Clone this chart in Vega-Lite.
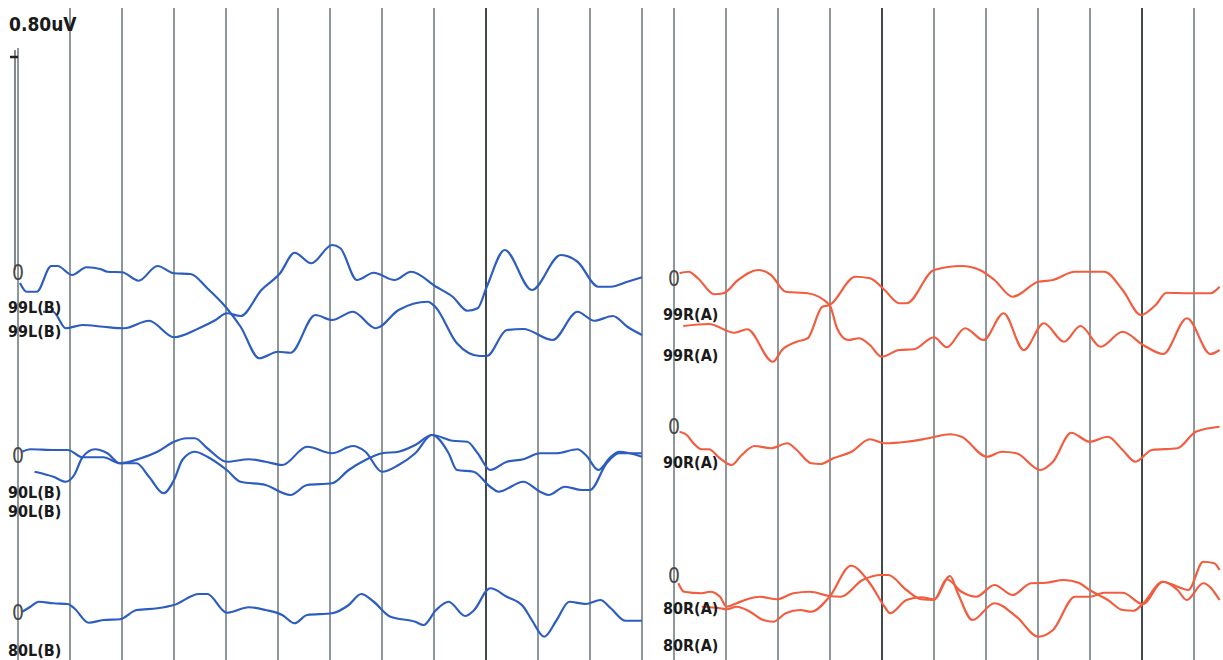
{
  "$schema": "https://vega.github.io/schema/vega-lite/v6.json",
  "padding": 0,
  "spacing": 0,
  "background": "white",
  "config": {"view": {"stroke": null}},
  "resolve": {"scale": {"x": "independent", "y": "independent"}},
  "datasets": {
    "gridL": [
      {"t": 1, "dark": "n"}, {"t": 2, "dark": "n"}, {"t": 3, "dark": "n"}, {"t": 4, "dark": "n"},
      {"t": 5, "dark": "n"}, {"t": 6, "dark": "n"}, {"t": 7, "dark": "n"}, {"t": 8, "dark": "n"},
      {"t": 9, "dark": "y"}, {"t": 10, "dark": "n"}, {"t": 11, "dark": "n"}, {"t": 12, "dark": "n"}
    ],
    "gridR": [
      {"t": 0, "dark": "n"}, {"t": 1, "dark": "n"}, {"t": 2, "dark": "n"}, {"t": 3, "dark": "n"},
      {"t": 4, "dark": "y"}, {"t": 5, "dark": "n"}, {"t": 6, "dark": "n"}, {"t": 7, "dark": "n"},
      {"t": 8, "dark": "n"}, {"t": 9, "dark": "y"}, {"t": 10, "dark": "n"}
    ],
    "left": [
      {"s": "L99a", "t": 0.038, "v": 1.508}, {"s": "L99a", "t": 0.167, "v": 1.473}, {"s": "L99a", "t": 0.36, "v": 1.473},
      {"s": "L99a", "t": 0.64, "v": 1.576}, {"s": "L99a", "t": 0.76, "v": 1.576}, {"s": "L99a", "t": 1.04, "v": 1.54},
      {"s": "L99a", "t": 1.319, "v": 1.571}, {"s": "L99a", "t": 1.6, "v": 1.563}, {"s": "L99a", "t": 1.719, "v": 1.553},
      {"s": "L99a", "t": 2.0, "v": 1.551}, {"s": "L99a", "t": 2.319, "v": 1.517}, {"s": "L99a", "t": 2.681, "v": 1.576},
      {"s": "L99a", "t": 3.0, "v": 1.547}, {"s": "L99a", "t": 3.319, "v": 1.544}, {"s": "L99a", "t": 3.64, "v": 1.487},
      {"s": "L99a", "t": 4.015, "v": 1.407}, {"s": "L99a", "t": 4.281, "v": 1.333}, {"s": "L99a", "t": 4.64, "v": 1.207},
      {"s": "L99a", "t": 5.0, "v": 1.233}, {"s": "L99a", "t": 5.24, "v": 1.229}, {"s": "L99a", "t": 5.719, "v": 1.38},
      {"s": "L99a", "t": 6.04, "v": 1.36}, {"s": "L99a", "t": 6.44, "v": 1.393}, {"s": "L99a", "t": 6.881, "v": 1.327},
      {"s": "L99a", "t": 7.319, "v": 1.4}, {"s": "L99a", "t": 7.881, "v": 1.433}, {"s": "L99a", "t": 8.023, "v": 1.413},
      {"s": "L99a", "t": 8.44, "v": 1.267}, {"s": "L99a", "t": 8.881, "v": 1.216}, {"s": "L99a", "t": 9.015, "v": 1.216},
      {"s": "L99a", "t": 9.4, "v": 1.32}, {"s": "L99a", "t": 9.719, "v": 1.324}, {"s": "L99a", "t": 10.281, "v": 1.28},
      {"s": "L99a", "t": 10.76, "v": 1.393}, {"s": "L99a", "t": 11.081, "v": 1.357}, {"s": "L99a", "t": 11.44, "v": 1.376},
      {"s": "L99a", "t": 11.719, "v": 1.333}, {"s": "L99a", "t": 12.0, "v": 1.3},

      {"s": "L99b", "t": 0.481, "v": 1.393}, {"s": "L99b", "t": 0.673, "v": 1.393}, {"s": "L99b", "t": 0.919, "v": 1.327},
      {"s": "L99b", "t": 1.24, "v": 1.34}, {"s": "L99b", "t": 1.64, "v": 1.333}, {"s": "L99b", "t": 2.04, "v": 1.327},
      {"s": "L99b", "t": 2.519, "v": 1.357}, {"s": "L99b", "t": 3.0, "v": 1.291}, {"s": "L99b", "t": 3.481, "v": 1.327},
      {"s": "L99b", "t": 3.8, "v": 1.36}, {"s": "L99b", "t": 4.015, "v": 1.387}, {"s": "L99b", "t": 4.281, "v": 1.376},
      {"s": "L99b", "t": 4.681, "v": 1.48}, {"s": "L99b", "t": 5.04, "v": 1.547}, {"s": "L99b", "t": 5.319, "v": 1.629},
      {"s": "L99b", "t": 5.64, "v": 1.587}, {"s": "L99b", "t": 6.04, "v": 1.66}, {"s": "L99b", "t": 6.2, "v": 1.647},
      {"s": "L99b", "t": 6.519, "v": 1.52}, {"s": "L99b", "t": 6.84, "v": 1.549}, {"s": "L99b", "t": 7.24, "v": 1.52},
      {"s": "L99b", "t": 7.56, "v": 1.553}, {"s": "L99b", "t": 8.04, "v": 1.493}, {"s": "L99b", "t": 8.36, "v": 1.453},
      {"s": "L99b", "t": 8.64, "v": 1.397}, {"s": "L99b", "t": 8.84, "v": 1.407}, {"s": "L99b", "t": 9.015, "v": 1.493},
      {"s": "L99b", "t": 9.36, "v": 1.64}, {"s": "L99b", "t": 9.881, "v": 1.48}, {"s": "L99b", "t": 10.44, "v": 1.62},
      {"s": "L99b", "t": 10.76, "v": 1.593}, {"s": "L99b", "t": 11.16, "v": 1.493}, {"s": "L99b", "t": 11.4, "v": 1.493},
      {"s": "L99b", "t": 11.719, "v": 1.513}, {"s": "L99b", "t": 12.0, "v": 1.531},

      {"s": "L90a", "t": 0.081, "v": 0.833}, {"s": "L90a", "t": 0.24, "v": 0.843}, {"s": "L90a", "t": 0.681, "v": 0.84},
      {"s": "L90a", "t": 0.96, "v": 0.84}, {"s": "L90a", "t": 1.24, "v": 0.811}, {"s": "L90a", "t": 1.64, "v": 0.811},
      {"s": "L90a", "t": 1.96, "v": 0.787}, {"s": "L90a", "t": 2.36, "v": 0.807}, {"s": "L90a", "t": 2.681, "v": 0.833},
      {"s": "L90a", "t": 3.0, "v": 0.873}, {"s": "L90a", "t": 3.24, "v": 0.887}, {"s": "L90a", "t": 3.4, "v": 0.887},
      {"s": "L90a", "t": 3.64, "v": 0.847}, {"s": "L90a", "t": 4.015, "v": 0.793}, {"s": "L90a", "t": 4.44, "v": 0.803},
      {"s": "L90a", "t": 4.76, "v": 0.793}, {"s": "L90a", "t": 5.081, "v": 0.78}, {"s": "L90a", "t": 5.56, "v": 0.853},
      {"s": "L90a", "t": 6.04, "v": 0.827}, {"s": "L90a", "t": 6.44, "v": 0.856}, {"s": "L90a", "t": 6.681, "v": 0.833},
      {"s": "L90a", "t": 7.0, "v": 0.753}, {"s": "L90a", "t": 7.319, "v": 0.78}, {"s": "L90a", "t": 7.64, "v": 0.827},
      {"s": "L90a", "t": 7.96, "v": 0.9}, {"s": "L90a", "t": 8.36, "v": 0.877}, {"s": "L90a", "t": 8.64, "v": 0.873},
      {"s": "L90a", "t": 8.84, "v": 0.827}, {"s": "L90a", "t": 9.081, "v": 0.76}, {"s": "L90a", "t": 9.4, "v": 0.793},
      {"s": "L90a", "t": 9.719, "v": 0.803}, {"s": "L90a", "t": 10.04, "v": 0.827}, {"s": "L90a", "t": 10.36, "v": 0.827},
      {"s": "L90a", "t": 10.76, "v": 0.843}, {"s": "L90a", "t": 10.919, "v": 0.82}, {"s": "L90a", "t": 11.16, "v": 0.76},
      {"s": "L90a", "t": 11.4, "v": 0.813}, {"s": "L90a", "t": 11.56, "v": 0.833}, {"s": "L90a", "t": 12.0, "v": 0.813},

      {"s": "L90b", "t": 0.319, "v": 0.753}, {"s": "L90b", "t": 0.681, "v": 0.733}, {"s": "L90b", "t": 0.919, "v": 0.713},
      {"s": "L90b", "t": 1.081, "v": 0.74}, {"s": "L90b", "t": 1.24, "v": 0.811}, {"s": "L90b", "t": 1.481, "v": 0.843},
      {"s": "L90b", "t": 1.719, "v": 0.827}, {"s": "L90b", "t": 1.96, "v": 0.787}, {"s": "L90b", "t": 2.281, "v": 0.787},
      {"s": "L90b", "t": 2.519, "v": 0.733}, {"s": "L90b", "t": 2.8, "v": 0.667}, {"s": "L90b", "t": 3.0, "v": 0.72},
      {"s": "L90b", "t": 3.16, "v": 0.8}, {"s": "L90b", "t": 3.4, "v": 0.833}, {"s": "L90b", "t": 3.64, "v": 0.813},
      {"s": "L90b", "t": 4.015, "v": 0.76}, {"s": "L90b", "t": 4.281, "v": 0.713}, {"s": "L90b", "t": 4.76, "v": 0.7},
      {"s": "L90b", "t": 5.24, "v": 0.66}, {"s": "L90b", "t": 5.56, "v": 0.7}, {"s": "L90b", "t": 6.04, "v": 0.707},
      {"s": "L90b", "t": 6.36, "v": 0.76}, {"s": "L90b", "t": 6.681, "v": 0.8}, {"s": "L90b", "t": 7.0, "v": 0.827},
      {"s": "L90b", "t": 7.319, "v": 0.833}, {"s": "L90b", "t": 7.64, "v": 0.86}, {"s": "L90b", "t": 7.96, "v": 0.9},
      {"s": "L90b", "t": 8.281, "v": 0.827}, {"s": "L90b", "t": 8.44, "v": 0.76}, {"s": "L90b", "t": 8.76, "v": 0.753},
      {"s": "L90b", "t": 9.081, "v": 0.693}, {"s": "L90b", "t": 9.24, "v": 0.673}, {"s": "L90b", "t": 9.719, "v": 0.713},
      {"s": "L90b", "t": 10.04, "v": 0.673}, {"s": "L90b", "t": 10.2, "v": 0.66}, {"s": "L90b", "t": 10.519, "v": 0.693},
      {"s": "L90b", "t": 10.84, "v": 0.68}, {"s": "L90b", "t": 11.0, "v": 0.68}, {"s": "L90b", "t": 11.319, "v": 0.787},
      {"s": "L90b", "t": 11.56, "v": 0.827}, {"s": "L90b", "t": 12.0, "v": 0.827},

      {"s": "L80", "t": 0.081, "v": 0.193}, {"s": "L80", "t": 0.24, "v": 0.213}, {"s": "L80", "t": 0.4, "v": 0.233},
      {"s": "L80", "t": 0.681, "v": 0.227}, {"s": "L80", "t": 0.96, "v": 0.224}, {"s": "L80", "t": 1.081, "v": 0.207},
      {"s": "L80", "t": 1.36, "v": 0.149}, {"s": "L80", "t": 1.64, "v": 0.16}, {"s": "L80", "t": 1.96, "v": 0.163},
      {"s": "L80", "t": 2.281, "v": 0.2}, {"s": "L80", "t": 2.681, "v": 0.207}, {"s": "L80", "t": 3.0, "v": 0.22},
      {"s": "L80", "t": 3.481, "v": 0.264}, {"s": "L80", "t": 3.64, "v": 0.264}, {"s": "L80", "t": 4.015, "v": 0.189},
      {"s": "L80", "t": 4.44, "v": 0.211}, {"s": "L80", "t": 4.76, "v": 0.2}, {"s": "L80", "t": 5.081, "v": 0.18},
      {"s": "L80", "t": 5.319, "v": 0.147}, {"s": "L80", "t": 5.56, "v": 0.18}, {"s": "L80", "t": 6.04, "v": 0.187},
      {"s": "L80", "t": 6.36, "v": 0.22}, {"s": "L80", "t": 6.6, "v": 0.264}, {"s": "L80", "t": 6.84, "v": 0.233},
      {"s": "L80", "t": 7.162, "v": 0.173}, {"s": "L80", "t": 7.64, "v": 0.153}, {"s": "L80", "t": 7.8, "v": 0.14},
      {"s": "L80", "t": 8.04, "v": 0.2}, {"s": "L80", "t": 8.281, "v": 0.233}, {"s": "L80", "t": 8.6, "v": 0.176},
      {"s": "L80", "t": 8.76, "v": 0.197}, {"s": "L80", "t": 9.081, "v": 0.287}, {"s": "L80", "t": 9.4, "v": 0.253},
      {"s": "L80", "t": 9.719, "v": 0.213}, {"s": "L80", "t": 9.881, "v": 0.16}, {"s": "L80", "t": 10.119, "v": 0.093},
      {"s": "L80", "t": 10.36, "v": 0.16}, {"s": "L80", "t": 10.6, "v": 0.233}, {"s": "L80", "t": 10.919, "v": 0.224},
      {"s": "L80", "t": 11.2, "v": 0.24}, {"s": "L80", "t": 11.4, "v": 0.207}, {"s": "L80", "t": 11.681, "v": 0.157},
      {"s": "L80", "t": 12.0, "v": 0.157}
    ],
    "right": [
      {"s": "R99a", "t": 0.106, "v": 1.547}, {"s": "R99a", "t": 0.281, "v": 1.553}, {"s": "R99a", "t": 0.458, "v": 1.527},
      {"s": "R99a", "t": 0.775, "v": 1.463}, {"s": "R99a", "t": 0.95, "v": 1.467}, {"s": "R99a", "t": 1.233, "v": 1.52},
      {"s": "R99a", "t": 1.619, "v": 1.56}, {"s": "R99a", "t": 1.865, "v": 1.54}, {"s": "R99a", "t": 2.148, "v": 1.473},
      {"s": "R99a", "t": 2.571, "v": 1.467}, {"s": "R99a", "t": 2.992, "v": 1.42}, {"s": "R99a", "t": 3.135, "v": 1.327},
      {"s": "R99a", "t": 3.346, "v": 1.28}, {"s": "R99a", "t": 3.558, "v": 1.287}, {"s": "R99a", "t": 3.767, "v": 1.26},
      {"s": "R99a", "t": 3.992, "v": 1.213}, {"s": "R99a", "t": 4.331, "v": 1.24}, {"s": "R99a", "t": 4.613, "v": 1.243},
      {"s": "R99a", "t": 5.0, "v": 1.291}, {"s": "R99a", "t": 5.246, "v": 1.251}, {"s": "R99a", "t": 5.598, "v": 1.327},
      {"s": "R99a", "t": 5.952, "v": 1.28}, {"s": "R99a", "t": 6.338, "v": 1.387}, {"s": "R99a", "t": 6.725, "v": 1.24},
      {"s": "R99a", "t": 7.113, "v": 1.347}, {"s": "R99a", "t": 7.5, "v": 1.273}, {"s": "R99a", "t": 7.817, "v": 1.336},
      {"s": "R99a", "t": 8.204, "v": 1.253}, {"s": "R99a", "t": 8.627, "v": 1.313}, {"s": "R99a", "t": 9.021, "v": 1.26},
      {"s": "R99a", "t": 9.408, "v": 1.224}, {"s": "R99a", "t": 9.865, "v": 1.367}, {"s": "R99a", "t": 10.317, "v": 1.224},
      {"s": "R99a", "t": 10.492, "v": 1.24},

      {"s": "R99b", "t": 0.177, "v": 1.336}, {"s": "R99b", "t": 0.669, "v": 1.344}, {"s": "R99b", "t": 1.162, "v": 1.309},
      {"s": "R99b", "t": 1.408, "v": 1.323}, {"s": "R99b", "t": 1.902, "v": 1.193}, {"s": "R99b", "t": 2.077, "v": 1.24},
      {"s": "R99b", "t": 2.36, "v": 1.273}, {"s": "R99b", "t": 2.571, "v": 1.287}, {"s": "R99b", "t": 2.852, "v": 1.413},
      {"s": "R99b", "t": 2.992, "v": 1.42}, {"s": "R99b", "t": 3.487, "v": 1.533}, {"s": "R99b", "t": 3.767, "v": 1.527},
      {"s": "R99b", "t": 4.05, "v": 1.48}, {"s": "R99b", "t": 4.331, "v": 1.427}, {"s": "R99b", "t": 4.471, "v": 1.427},
      {"s": "R99b", "t": 5.0, "v": 1.56}, {"s": "R99b", "t": 5.529, "v": 1.576}, {"s": "R99b", "t": 5.881, "v": 1.56},
      {"s": "R99b", "t": 6.162, "v": 1.52}, {"s": "R99b", "t": 6.513, "v": 1.453}, {"s": "R99b", "t": 7.006, "v": 1.513},
      {"s": "R99b", "t": 7.288, "v": 1.52}, {"s": "R99b", "t": 7.712, "v": 1.553}, {"s": "R99b", "t": 8.275, "v": 1.553},
      {"s": "R99b", "t": 8.627, "v": 1.48}, {"s": "R99b", "t": 8.979, "v": 1.38}, {"s": "R99b", "t": 9.262, "v": 1.42},
      {"s": "R99b", "t": 9.471, "v": 1.469}, {"s": "R99b", "t": 9.894, "v": 1.467}, {"s": "R99b", "t": 10.317, "v": 1.467},
      {"s": "R99b", "t": 10.492, "v": 1.493},

      {"s": "R90", "t": 0.106, "v": 0.913}, {"s": "R90", "t": 0.246, "v": 0.9}, {"s": "R90", "t": 0.373, "v": 0.867},
      {"s": "R90", "t": 0.529, "v": 0.843}, {"s": "R90", "t": 0.669, "v": 0.843}, {"s": "R90", "t": 0.881, "v": 0.807},
      {"s": "R90", "t": 1.106, "v": 0.78}, {"s": "R90", "t": 1.302, "v": 0.82}, {"s": "R90", "t": 1.55, "v": 0.856},
      {"s": "R90", "t": 1.865, "v": 0.847}, {"s": "R90", "t": 2.183, "v": 0.867}, {"s": "R90", "t": 2.36, "v": 0.84},
      {"s": "R90", "t": 2.64, "v": 0.787}, {"s": "R90", "t": 2.817, "v": 0.784}, {"s": "R90", "t": 3.063, "v": 0.807},
      {"s": "R90", "t": 3.415, "v": 0.833}, {"s": "R90", "t": 3.767, "v": 0.883}, {"s": "R90", "t": 4.05, "v": 0.867},
      {"s": "R90", "t": 4.471, "v": 0.873}, {"s": "R90", "t": 4.894, "v": 0.887}, {"s": "R90", "t": 5.317, "v": 0.903},
      {"s": "R90", "t": 5.529, "v": 0.893}, {"s": "R90", "t": 6.021, "v": 0.813}, {"s": "R90", "t": 6.304, "v": 0.833},
      {"s": "R90", "t": 6.585, "v": 0.827}, {"s": "R90", "t": 7.042, "v": 0.76}, {"s": "R90", "t": 7.288, "v": 0.793},
      {"s": "R90", "t": 7.64, "v": 0.909}, {"s": "R90", "t": 7.992, "v": 0.873}, {"s": "R90", "t": 8.344, "v": 0.893},
      {"s": "R90", "t": 8.627, "v": 0.84}, {"s": "R90", "t": 8.873, "v": 0.793}, {"s": "R90", "t": 9.19, "v": 0.84},
      {"s": "R90", "t": 9.683, "v": 0.847}, {"s": "R90", "t": 10.035, "v": 0.913}, {"s": "R90", "t": 10.492, "v": 0.933},

      {"s": "R80a", "t": 0.083, "v": 0.307}, {"s": "R80a", "t": 0.192, "v": 0.273}, {"s": "R80a", "t": 0.533, "v": 0.267},
      {"s": "R80a", "t": 0.692, "v": 0.273}, {"s": "R80a", "t": 0.885, "v": 0.253}, {"s": "R80a", "t": 1.013, "v": 0.213},
      {"s": "R80a", "t": 1.206, "v": 0.227}, {"s": "R80a", "t": 1.365, "v": 0.24}, {"s": "R80a", "t": 1.654, "v": 0.253},
      {"s": "R80a", "t": 1.975, "v": 0.243}, {"s": "R80a", "t": 2.294, "v": 0.267}, {"s": "R80a", "t": 2.615, "v": 0.273},
      {"s": "R80a", "t": 2.992, "v": 0.256}, {"s": "R80a", "t": 3.204, "v": 0.253}, {"s": "R80a", "t": 3.627, "v": 0.32},
      {"s": "R80a", "t": 3.992, "v": 0.34}, {"s": "R80a", "t": 4.119, "v": 0.34}, {"s": "R80a", "t": 4.471, "v": 0.28},
      {"s": "R80a", "t": 4.754, "v": 0.243}, {"s": "R80a", "t": 5.0, "v": 0.24}, {"s": "R80a", "t": 5.246, "v": 0.323},
      {"s": "R80a", "t": 5.529, "v": 0.273}, {"s": "R80a", "t": 5.81, "v": 0.253}, {"s": "R80a", "t": 6.162, "v": 0.3},
      {"s": "R80a", "t": 6.513, "v": 0.26}, {"s": "R80a", "t": 6.865, "v": 0.307}, {"s": "R80a", "t": 7.148, "v": 0.309},
      {"s": "R80a", "t": 7.5, "v": 0.32}, {"s": "R80a", "t": 7.781, "v": 0.309}, {"s": "R80a", "t": 7.992, "v": 0.28},
      {"s": "R80a", "t": 8.344, "v": 0.24}, {"s": "R80a", "t": 8.627, "v": 0.2}, {"s": "R80a", "t": 8.838, "v": 0.197},
      {"s": "R80a", "t": 9.013, "v": 0.224}, {"s": "R80a", "t": 9.402, "v": 0.313}, {"s": "R80a", "t": 9.683, "v": 0.293},
      {"s": "R80a", "t": 9.89, "v": 0.28}, {"s": "R80a", "t": 10.177, "v": 0.393}, {"s": "R80a", "t": 10.388, "v": 0.387},
      {"s": "R80a", "t": 10.492, "v": 0.36},

      {"s": "R80b", "t": 0.533, "v": 0.213}, {"s": "R80b", "t": 0.885, "v": 0.207}, {"s": "R80b", "t": 1.013, "v": 0.203},
      {"s": "R80b", "t": 1.206, "v": 0.213}, {"s": "R80b", "t": 1.462, "v": 0.193}, {"s": "R80b", "t": 1.717, "v": 0.16},
      {"s": "R80b", "t": 1.91, "v": 0.153}, {"s": "R80b", "t": 2.148, "v": 0.187}, {"s": "R80b", "t": 2.429, "v": 0.2},
      {"s": "R80b", "t": 2.64, "v": 0.193}, {"s": "R80b", "t": 2.992, "v": 0.253}, {"s": "R80b", "t": 3.402, "v": 0.377},
      {"s": "R80b", "t": 3.767, "v": 0.307}, {"s": "R80b", "t": 4.05, "v": 0.213}, {"s": "R80b", "t": 4.154, "v": 0.187},
      {"s": "R80b", "t": 4.471, "v": 0.24}, {"s": "R80b", "t": 4.754, "v": 0.251}, {"s": "R80b", "t": 5.0, "v": 0.243},
      {"s": "R80b", "t": 5.308, "v": 0.336}, {"s": "R80b", "t": 5.458, "v": 0.267}, {"s": "R80b", "t": 5.74, "v": 0.16},
      {"s": "R80b", "t": 6.162, "v": 0.227}, {"s": "R80b", "t": 6.585, "v": 0.173}, {"s": "R80b", "t": 7.008, "v": 0.093},
      {"s": "R80b", "t": 7.288, "v": 0.12}, {"s": "R80b", "t": 7.712, "v": 0.253}, {"s": "R80b", "t": 7.992, "v": 0.253},
      {"s": "R80b", "t": 8.275, "v": 0.269}, {"s": "R80b", "t": 8.627, "v": 0.269}, {"s": "R80b", "t": 9.013, "v": 0.224},
      {"s": "R80b", "t": 9.402, "v": 0.313}, {"s": "R80b", "t": 9.683, "v": 0.28}, {"s": "R80b", "t": 9.86, "v": 0.24},
      {"s": "R80b", "t": 10.177, "v": 0.307}, {"s": "R80b", "t": 10.492, "v": 0.24}
    ],
    "titleL": [{"label": "0.80uV", "t": -0.173, "v": 2.54}],
    "labelsL": [
      {"label": "99L(B)", "t": -0.192, "v": 1.408},
      {"label": "99L(B)", "t": -0.192, "v": 1.312},
      {"label": "90L(B)", "t": -0.192, "v": 0.592},
      {"label": "90L(B)", "t": -0.192, "v": 0.668},
      {"label": "80L(B)", "t": -0.192, "v": 0.036}
    ],
    "labelsR": [
      {"label": "99R(A)", "t": -0.212, "v": 1.38},
      {"label": "99R(A)", "t": -0.212, "v": 1.216},
      {"label": "90R(A)", "t": -0.212, "v": 0.788},
      {"label": "80R(A)", "t": -0.212, "v": 0.204},
      {"label": "80R(A)", "t": -0.212, "v": 0.056}
    ],
    "zerosL": [{"t": 0, "v": 1.544}, {"t": 0, "v": 0.812}, {"t": 0, "v": 0.184}],
    "zerosR": [{"t": 0, "v": 1.52}, {"t": 0, "v": 0.928}, {"t": 0, "v": 0.332}]
  },
  "hconcat": [
    {
      "width": 656,
      "height": 660,
      "layer": [
        {
          "data": {"name": "gridL"},
          "mark": {"type": "rule", "strokeWidth": 1.7},
          "encoding": {
            "x": {"field": "t", "type": "quantitative", "scale": {"domain": [-0.346154, 12.269231]}, "axis": null},
            "y": {"datum": 2.608, "type": "quantitative", "scale": {"domain": [0, 2.64]}, "axis": null},
            "y2": {"datum": 0},
            "color": {"field": "dark", "type": "nominal", "scale": {"domain": ["n", "y"], "range": ["#7a858b", "#23282c"]}, "legend": null}
          }
        },
        {
          "data": {"values": [{"bar": 0.8}]},
          "mark": {"type": "rule", "strokeWidth": 1.7, "color": "#7a858b"},
          "encoding": {
            "x": {"datum": 0, "type": "quantitative", "scale": {"domain": [-0.346154, 12.269231]}, "axis": null},
            "y": {"datum": 2.448, "type": "quantitative", "scale": {"domain": [0, 2.64]}, "axis": null},
            "y2": {"datum": 0}
          }
        },
        {
          "data": {"values": [{"bar": 0.8}]},
          "mark": {"type": "rule", "strokeWidth": 1.5, "color": "#5a6166"},
          "encoding": {
            "x": {"datum": -0.058, "type": "quantitative", "scale": {"domain": [-0.346154, 12.269231]}, "axis": null},
            "y": {"datum": 2.44, "type": "quantitative", "scale": {"domain": [0, 2.64]}, "axis": null},
            "y2": {"datum": 1.56}
          }
        },
        {
          "data": {"values": [{"bar": 0.8}]},
          "mark": {"type": "rule", "strokeWidth": 2.5, "color": "#222222"},
          "encoding": {
            "x": {"datum": -0.154, "type": "quantitative", "scale": {"domain": [-0.346154, 12.269231]}, "axis": null},
            "x2": {"datum": 0},
            "y": {"datum": 2.412, "type": "quantitative", "scale": {"domain": [0, 2.64]}, "axis": null}
          }
        },
        {
          "data": {"name": "left"},
          "mark": {"type": "line", "strokeWidth": 2.2, "color": "#2c5dbf", "interpolate": "monotone"},
          "encoding": {
            "x": {"field": "t", "type": "quantitative", "scale": {"domain": [-0.346154, 12.269231]}, "axis": null},
            "y": {"field": "v", "type": "quantitative", "scale": {"domain": [0, 2.64]}, "axis": null},
            "detail": {"field": "s", "type": "nominal"}
          }
        },
        {
          "data": {"name": "zerosL"},
          "mark": {"type": "text", "font": "DejaVu Sans Condensed, Liberation Sans Narrow, Liberation Sans", "fontSize": 21, "align": "center", "baseline": "middle", "color": "#4a4a4a"},
          "encoding": {
            "x": {"field": "t", "type": "quantitative", "scale": {"domain": [-0.346154, 12.269231]}, "axis": null},
            "y": {"field": "v", "type": "quantitative", "scale": {"domain": [0, 2.64]}, "axis": null},
            "text": {"value": "0"}
          }
        },
        {
          "data": {"name": "titleL"},
          "mark": {"type": "text", "font": "DejaVu Sans Condensed, Liberation Sans Narrow, Liberation Sans", "fontSize": 19, "fontWeight": "bold", "align": "left", "baseline": "middle", "color": "#1a1a1a"},
          "encoding": {
            "x": {"field": "t", "type": "quantitative", "scale": {"domain": [-0.346154, 12.269231]}, "axis": null},
            "y": {"field": "v", "type": "quantitative", "scale": {"domain": [0, 2.64]}, "axis": null},
            "text": {"field": "label", "type": "nominal"}
          }
        },
        {
          "data": {"name": "labelsL"},
          "mark": {"type": "text", "font": "DejaVu Sans Condensed, Liberation Sans Narrow, Liberation Sans", "fontSize": 16, "fontWeight": "bold", "align": "left", "baseline": "middle", "color": "#1a1a1a"},
          "encoding": {
            "x": {"field": "t", "type": "quantitative", "scale": {"domain": [-0.346154, 12.269231]}, "axis": null},
            "y": {"field": "v", "type": "quantitative", "scale": {"domain": [0, 2.64]}, "axis": null},
            "text": {"field": "label", "type": "nominal"}
          }
        }
      ]
    },
    {
      "width": 567,
      "height": 660,
      "layer": [
        {
          "data": {"name": "gridR"},
          "mark": {"type": "rule", "strokeWidth": 1.7},
          "encoding": {
            "x": {"field": "t", "type": "quantitative", "scale": {"domain": [-0.346154, 10.557692]}, "axis": null},
            "y": {"datum": 2.608, "type": "quantitative", "scale": {"domain": [0, 2.64]}, "axis": null},
            "y2": {"datum": 0},
            "color": {"field": "dark", "type": "nominal", "scale": {"domain": ["n", "y"], "range": ["#7a858b", "#23282c"]}, "legend": null}
          }
        },
        {
          "data": {"name": "right"},
          "mark": {"type": "line", "strokeWidth": 2.2, "color": "#f15d3f", "interpolate": "monotone"},
          "encoding": {
            "x": {"field": "t", "type": "quantitative", "scale": {"domain": [-0.346154, 10.557692]}, "axis": null},
            "y": {"field": "v", "type": "quantitative", "scale": {"domain": [0, 2.64]}, "axis": null},
            "detail": {"field": "s", "type": "nominal"}
          }
        },
        {
          "data": {"name": "zerosR"},
          "mark": {"type": "text", "font": "DejaVu Sans Condensed, Liberation Sans Narrow, Liberation Sans", "fontSize": 21, "align": "center", "baseline": "middle", "color": "#4a4a4a"},
          "encoding": {
            "x": {"field": "t", "type": "quantitative", "scale": {"domain": [-0.346154, 10.557692]}, "axis": null},
            "y": {"field": "v", "type": "quantitative", "scale": {"domain": [0, 2.64]}, "axis": null},
            "text": {"value": "0"}
          }
        },
        {
          "data": {"name": "labelsR"},
          "mark": {"type": "text", "font": "DejaVu Sans Condensed, Liberation Sans Narrow, Liberation Sans", "fontSize": 16, "fontWeight": "bold", "align": "left", "baseline": "middle", "color": "#1a1a1a"},
          "encoding": {
            "x": {"field": "t", "type": "quantitative", "scale": {"domain": [-0.346154, 10.557692]}, "axis": null},
            "y": {"field": "v", "type": "quantitative", "scale": {"domain": [0, 2.64]}, "axis": null},
            "text": {"field": "label", "type": "nominal"}
          }
        }
      ]
    }
  ]
}
